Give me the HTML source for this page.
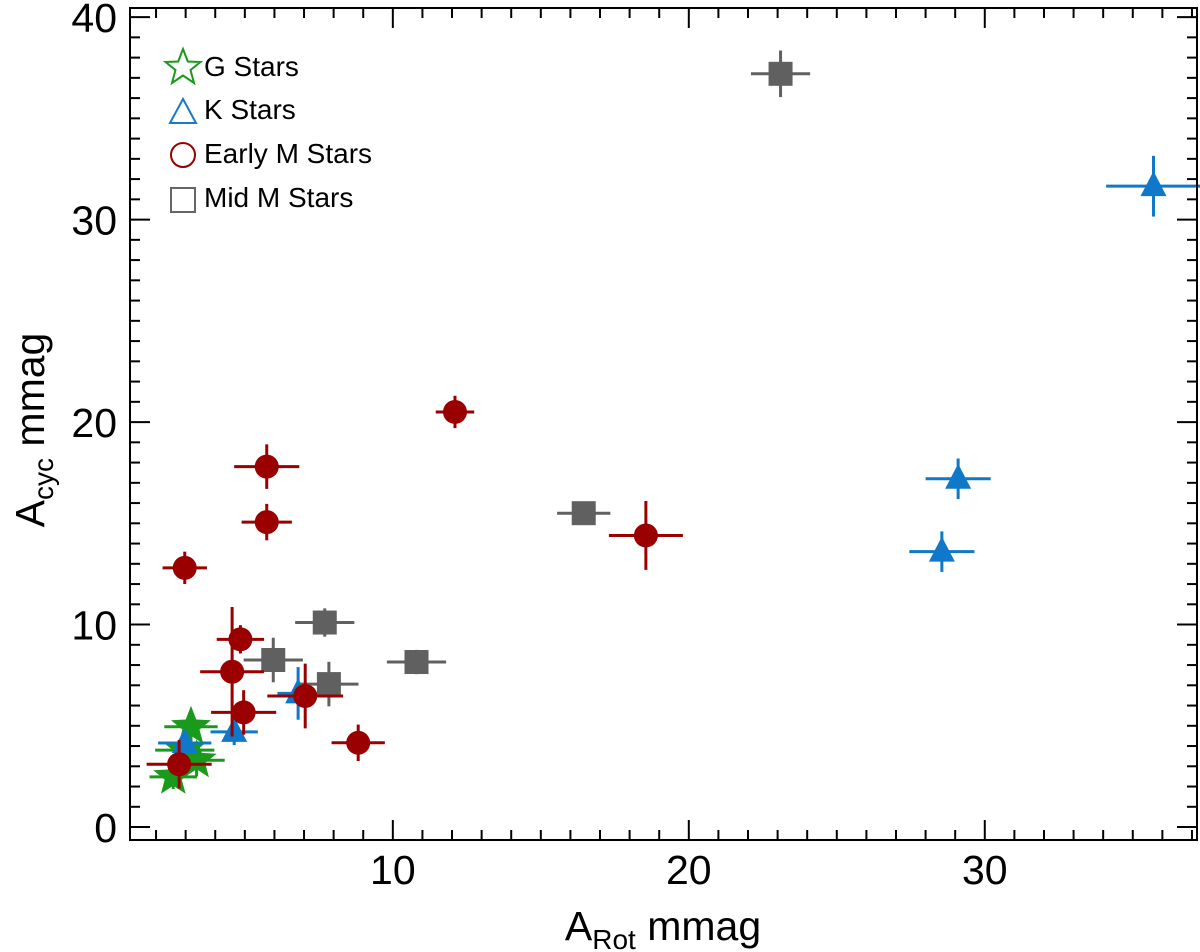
<!DOCTYPE html>
<html><head><meta charset="utf-8"><style>
html,body{margin:0;padding:0;background:#fff;}
svg{display:block;font-family:"Liberation Sans",Helvetica,Arial,sans-serif;}
</style></head><body>
<svg id="chart" width="1200" height="952" viewBox="0 0 1200 952">
<g id="marks"></g>
<rect x="130" y="8" width="1067" height="832" fill="none" stroke="#000" stroke-width="2"/>
<g id="axes"></g>
<text x="663" y="940" font-size="41" text-anchor="middle">A<tspan font-size="28" dy="9">Rot</tspan><tspan dy="-9"> mmag</tspan></text>
<text transform="translate(44,430) rotate(-90)" font-size="41" text-anchor="middle">A<tspan font-size="28" dy="9">cyc</tspan><tspan dy="-9"> mmag</tspan></text>
<g font-size="28">
<g><polygon points="183,49 187.8,61.5 200.5,62 190.5,70 194,83 183,75.5 172,83 175.5,70 165.5,62 178.2,61.5" fill="none" stroke="#1a9a1a" stroke-width="2"/><text x="204" y="76">G Stars</text></g>
<g><polygon points="183,99 196,123 170,123" fill="none" stroke="#1a7ac8" stroke-width="2"/><text x="204" y="119">K Stars</text></g>
<g><circle cx="183" cy="155" r="12" fill="none" stroke="#9a0000" stroke-width="2"/><text x="204" y="163">Early M Stars</text></g>
<g><rect x="171" y="188" width="24" height="24" fill="none" stroke="#666" stroke-width="2"/><text x="204" y="207">Mid M Stars</text></g>
</g>
</svg>
<script>
const gX=[3.18,3.37,2.58,2.97];
const gY=[4.95,3.3,2.48,3.8];
const gXe=[0.9,0.95,0.8,1.0];
const gYe=[0.8,0.8,0.6,0.6];
const kX=[35.7,29.1,28.55,4.64,6.8,2.97];
const kY=[31.65,17.2,13.6,4.7,6.6,4.15];
const kXe=[1.6,1.1,1.1,0.8,0.7,0.9];
const kYe=[1.5,1.0,1.0,0.65,1.3,0.6];
const mmX=[23.1,16.45,7.7,10.8,5.96,7.84];
const mmY=[37.2,15.5,10.1,8.15,8.25,7.06];
const mmXe=[1.0,0.9,1.0,1.0,1.0,1.0];
const mmYe=[1.15,0.5,0.7,0.6,1.1,1.1];
const emX=[2.97,5.74,5.74,12.1,18.55,4.85,4.57,4.96,7.04,8.83,2.78];
const emY=[12.8,17.8,15.06,20.5,14.4,9.27,7.67,5.66,6.47,4.16,3.1];
const emXe=[0.75,1.1,0.85,0.65,1.25,0.8,1.08,1.1,1.28,0.9,1.1];
const emYe=[0.8,1.1,0.9,0.8,1.7,0.7,3.2,1.1,1.6,0.9,1.2];
const xTicks=[10,20,30];
const yTicks=[0,10,20,30,40];
const xMin=1.12,xMax=37.17,yMin=-0.64,yMax=40.45;
const L=130,R=1197,T=8,B=840;
const sx=v=>L+(v-xMin)/(xMax-xMin)*(R-L);
const sy=v=>B-(v-yMin)/(yMax-yMin)*(B-T);
const NS='http://www.w3.org/2000/svg';
function mk(tag,a,p){const e=document.createElementNS(NS,tag);for(const k in a)e.setAttribute(k,a[k]);p.appendChild(e);return e;}
const axes=document.getElementById('axes');
for(let v=2;v<=37;v++){const x=sx(v),len=v%10===0?20:10;
 let t=mk('line',{x1:x,x2:x,y1:B,y2:B-len,stroke:'#000','stroke-width':2},axes);
 
 t=mk('line',{x1:x,x2:x,y1:T,y2:T+len,stroke:'#000','stroke-width':2},axes);
 }
for(let v=0;v<=40;v++){const y=sy(v),len=v%10===0?20:10;
 let t=mk('line',{x1:L,x2:L+len,y1:y,y2:y,stroke:'#000','stroke-width':2},axes);
 
 t=mk('line',{x1:R,x2:R-len,y1:y,y2:y,stroke:'#000','stroke-width':2},axes);
 }
xTicks.forEach(v=>{const t=mk('text',{x:sx(v),y:884,'font-size':41,'text-anchor':'middle'},axes);t.textContent=v;
 });
yTicks.forEach(v=>{const t=mk('text',{x:117,y:sy(v)+15,'font-size':41,'text-anchor':'end'},axes);t.textContent=v;
 });
const marks=document.getElementById('marks');
function series(X,Y,Xe,Ye,col,shape,name){
 X.forEach((xv,i)=>{const g=mk('g',{},marks);
  
  const cx=sx(xv),cy=sy(Y[i]);
  mk('line',{x1:sx(xv-Xe[i]),x2:sx(xv+Xe[i]),y1:cy,y2:cy,stroke:col,'stroke-width':3},g);
  mk('line',{x1:cx,x2:cx,y1:sy(Y[i]-Ye[i]),y2:sy(Y[i]+Ye[i]),stroke:col,'stroke-width':3},g);
  if(shape==='circle')mk('circle',{cx:cx,cy:cy,r:12,fill:col},g);
  else if(shape==='square')mk('rect',{x:cx-12,y:cy-12,width:24,height:24,fill:col},g);
  else if(shape==='tri')mk('polygon',{points:`${cx},${cy-15} ${cx+13},${cy+10} ${cx-13},${cy+10}`,fill:col},g);
  else{let p=[];for(let k=0;k<10;k++){const r=k%2?9:21,a=-Math.PI/2+k*Math.PI/5;p.push((cx+r*Math.cos(a)).toFixed(1)+','+(cy+r*Math.sin(a)).toFixed(1));}
   mk('polygon',{points:p.join(' '),fill:col},g);}
 });}
series(gX,gY,gXe,gYe,'#1a9a1a','star','g-star');
series(kX,kY,kXe,kYe,'#0f78c8','tri','k-star');
series(mmX,mmY,mmXe,mmYe,'#606060','square','mid-m-star');
series(emX,emY,emXe,emYe,'#9a0000','circle','early-m-star');
</script>
</body></html>
